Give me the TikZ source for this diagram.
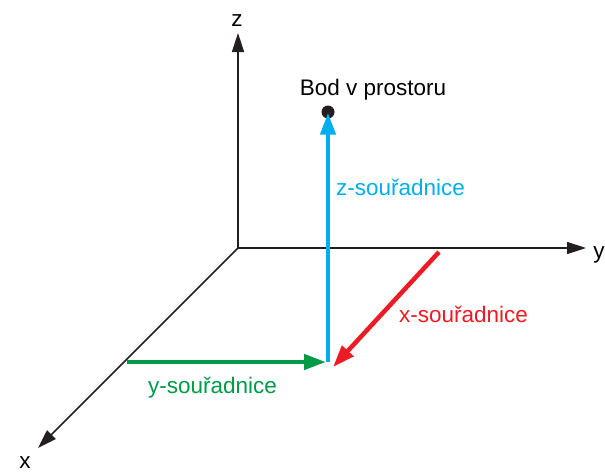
\documentclass[tikz,border=0pt]{standalone}
\usepackage{fontspec}
\setmainfont{Liberation Sans}
\usetikzlibrary{arrows.meta,positioning}
\definecolor{axisblack}{RGB}{35,31,32}
\definecolor{zblue}{RGB}{0,174,239}
\definecolor{xred}{RGB}{237,28,36}
\definecolor{ygreen}{RGB}{0,155,72}
\begin{document}
\begin{tikzpicture}[x=1pt, y=-1pt,
  axis/.style={draw=axisblack, line width=1.5pt, -{Triangle[length=19pt,width=12pt]}},
  coordarrow/.style={line width=4.5pt, -{Triangle[length=22pt,width=15pt]}},
  txt/.style={font=\fontsize{22.5}{26}\selectfont, inner sep=0pt, anchor=base},
  point/.style={circle, fill=axisblack, minimum size=13pt, inner sep=0pt}
]
\useasboundingbox (0,0) rectangle (605,472);
% axes
\coordinate (origin) at (238,248);
\coordinate (zend) at (238,33);
\coordinate (yend) at (586,248);
\coordinate (xend) at (38,448);
\draw[axis] (origin) -- (zend);
\draw[axis] (origin) -- (yend);
\draw[axis] (origin) -- (xend);
\node[txt] (zlabel) at (237,26) {z};
\node[txt] (ylabel) at (599,258) {y};
\node[txt] (xlabel) at (25,468) {x};
% point and its coordinates
\node[point] (bod) at (328,112) {};
\node[txt] (bodlabel) at (373,95) {Bod v prostoru};
\coordinate (foot) at (328,362);
\coordinate (ystart) at (127,362);
\coordinate (xstart) at (439,252);
\draw[coordarrow, ygreen] (ystart) -- ([xshift=-2pt]foot);
\draw[coordarrow, xred] (xstart) -- ([xshift=5pt,yshift=-5pt]foot);
\draw[coordarrow, zblue] (foot) -- ([yshift=6pt]bod.south);
\node[txt, zblue, anchor=base west] (zcoord) at (336,195) {z-souřadnice};
\node[txt, xred, anchor=base west] (xcoord) at (399,322) {x-souřadnice};
\node[txt, ygreen, anchor=base west] (ycoord) at (148,393) {y-souřadnice};
\end{tikzpicture}
\end{document}
